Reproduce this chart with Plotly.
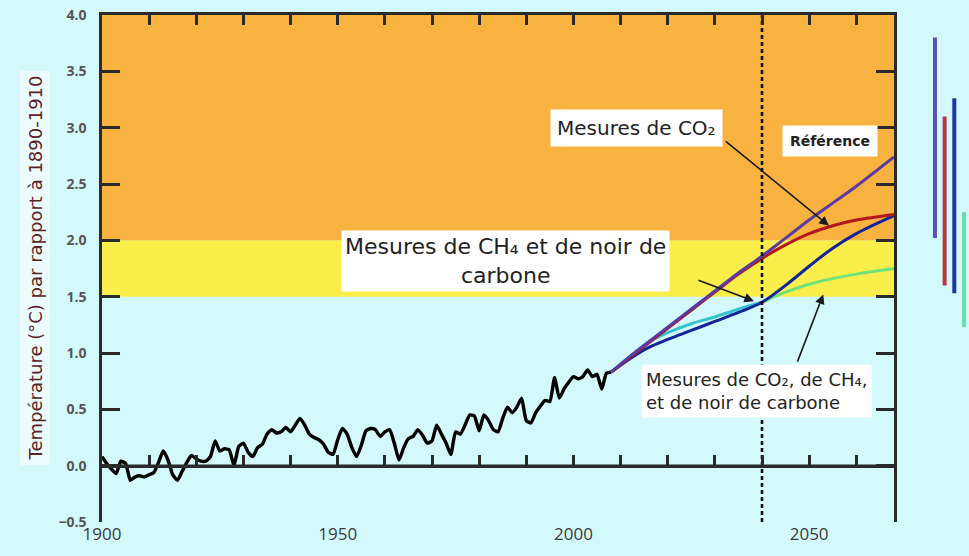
import plotly.graph_objects as go

# ---------------- data ----------------
obs_years = list(range(1900, 2009))
obs_temp = [
    0.08, 0.02, -0.03, -0.07, 0.04, 0.02, -0.13, -0.10, -0.09, -0.10,   # 1900-1909
    -0.08, -0.06, 0.03, 0.13, 0.05, -0.08, -0.13, -0.05, 0.03, 0.09,    # 1910-1919
    0.06, 0.04, 0.04, 0.08, 0.22, 0.13, 0.15, 0.14, 0.00, 0.17,         # 1920-1929
    0.20, 0.12, 0.08, 0.16, 0.19, 0.28, 0.32, 0.29, 0.30, 0.34,         # 1930-1939
    0.30, 0.36, 0.42, 0.36, 0.28, 0.25, 0.23, 0.19, 0.12, 0.10,         # 1940-1949
    0.23, 0.33, 0.28, 0.16, 0.08, 0.18, 0.31, 0.33, 0.32, 0.26,         # 1950-1959
    0.30, 0.32, 0.20, 0.05, 0.16, 0.24, 0.26, 0.32, 0.27, 0.20,         # 1960-1969
    0.22, 0.36, 0.28, 0.20, 0.10, 0.30, 0.28, 0.36, 0.45, 0.44,         # 1970-1979
    0.31, 0.45, 0.40, 0.32, 0.30, 0.42, 0.52, 0.47, 0.52, 0.60,         # 1980-1989
    0.40, 0.38, 0.47, 0.53, 0.58, 0.57, 0.78, 0.60, 0.68, 0.74,         # 1990-1999
    0.79, 0.77, 0.79, 0.85, 0.79, 0.81, 0.68, 0.82, 0.83,               # 2000-2008
]

proj_years = [2008, 2012, 2016, 2020, 2025, 2030, 2035, 2040, 2045, 2050, 2055, 2060, 2068]
proj_reference = [0.83, 0.97, 1.10, 1.23, 1.39, 1.55, 1.71, 1.86, 2.02, 2.18, 2.33, 2.48, 2.74]
proj_co2 = [0.83, 0.96, 1.09, 1.22, 1.38, 1.54, 1.70, 1.84, 1.96, 2.06, 2.13, 2.18, 2.23]
proj_ch4_bc = [0.83, 0.95, 1.05, 1.12, 1.20, 1.28, 1.36, 1.45, 1.60, 1.77, 1.93, 2.06, 2.22]
proj_all = [0.83, 0.97, 1.10, 1.18, 1.26, 1.32, 1.39, 1.45, 1.54, 1.61, 1.66, 1.70, 1.75]

marker_year = 2040

band_low = [1.5, 2.0]
band_high = [2.0, 4.0]

range_labels = ["Référence", "CO₂", "CH₄ + noir de carbone", "CO₂ + CH₄ + noir de carbone"]
range_low = [2.02, 1.60, 1.53, 1.23]
range_high = [3.80, 3.10, 3.26, 2.25]

x_ticks = [1900, 1950, 2000, 2050]
y_ticks = [-0.5, 0.0, 0.5, 1.0, 1.5, 2.0, 2.5, 3.0, 3.5, 4.0]

# ---------------- style ----------------
BG = "#D4F9FC"
AX = "#2a2a2a"
FONT = "Open Sans"
BOXFONT = "DejaVu Sans"
X_RANGE = [1900, 2068]
Y_RANGE = [-0.5, 4.0]
band_colors = ["#F9EE4A", "#F7B23F"]
line_colors = {"ref": "#5b3aa3", "co2": "#b3161c", "ch4": "#14249a",
               "all_a": "#38c4cc", "all_b": "#6ee27a"}
range_colors = ["#5a52b4", "#b33a44", "#1d36a6", "#66e0a6"]

fig = go.Figure()

# observed temperature
fig.add_trace(go.Scatter(x=obs_years, y=obs_temp, mode="lines",
                         line=dict(color="#000000", width=3.4, shape="spline", smoothing=0.5),
                         hoverinfo="skip", showlegend=False))

# projections
k = proj_years.index(marker_year)
fig.add_trace(go.Scatter(x=proj_years[:k + 1], y=proj_all[:k + 1], mode="lines",
                         line=dict(color=line_colors["all_a"], width=3, shape="spline"),
                         showlegend=False, hoverinfo="skip"))
fig.add_trace(go.Scatter(x=proj_years[k:], y=proj_all[k:], mode="lines",
                         line=dict(color=line_colors["all_b"], width=3, shape="spline"),
                         showlegend=False, hoverinfo="skip"))
fig.add_trace(go.Scatter(x=proj_years, y=proj_ch4_bc, mode="lines",
                         line=dict(color=line_colors["ch4"], width=3, shape="spline"),
                         showlegend=False, hoverinfo="skip"))
fig.add_trace(go.Scatter(x=proj_years, y=proj_co2, mode="lines",
                         line=dict(color=line_colors["co2"], width=3, shape="spline"),
                         showlegend=False, hoverinfo="skip"))
fig.add_trace(go.Scatter(x=proj_years, y=proj_reference, mode="lines",
                         line=dict(color=line_colors["ref"], width=3, shape="spline"),
                         showlegend=False, hoverinfo="skip"))

# zero line with ticks (x2)
fig.add_trace(go.Scatter(x=X_RANGE, y=[0, 0], mode="lines", xaxis="x2", yaxis="y",
                         line=dict(color=AX, width=2.5), showlegend=False, hoverinfo="skip"))
# vertical dashed marker (x3 = top axis)
fig.add_trace(go.Scatter(x=[marker_year, marker_year], y=Y_RANGE, mode="lines",
                         xaxis="x3", yaxis="y",
                         line=dict(color="#111111", width=2.6, dash="4px,3px"),
                         showlegend=False, hoverinfo="skip"))

# ranges panel on the right
for lab, lo, hi, col in zip(range_labels, range_low, range_high, range_colors):
    fig.add_trace(go.Scatter(x=[lab, lab], y=[lo, hi], mode="lines", xaxis="x4", yaxis="y2",
                             line=dict(color=col, width=4), showlegend=False, hoverinfo="skip"))

# bands
for lo, hi, col in zip(band_low, band_high, band_colors):
    fig.add_shape(type="rect", xref="x", yref="y", x0=X_RANGE[0], x1=X_RANGE[1],
                  y0=lo, y1=hi, fillcolor=col, line=dict(width=0), layer="below")

L, R, T, B = 102, 0, 15, 34
W, H = 969, 556
pw = W - L - R
main_right = (894 - L) / pw
panel_left = (900 - L) / pw
zero_pos = (0 - Y_RANGE[0]) / (Y_RANGE[1] - Y_RANGE[0])

fig.update_layout(
    width=W, height=H,
    margin=dict(l=L, r=R, t=T, b=B),
    paper_bgcolor=BG, plot_bgcolor=BG,
    font=dict(family=FONT, color="#333333"),
    showlegend=False,
    xaxis=dict(domain=[0, main_right], range=X_RANGE, tickvals=x_ticks,
               ticks="", showline=False, showgrid=False, zeroline=False,
               tickfont=dict(size=17, color="#3a3a3a"), anchor="y"),
    xaxis2=dict(overlaying="x", range=X_RANGE, anchor="free", position=zero_pos,
                side="bottom", showline=True, linecolor=AX, linewidth=2.5,
                ticks="inside", ticklen=10, tickwidth=2.5, tickcolor=AX,
                dtick=10, tick0=1900, showticklabels=False, showgrid=False, zeroline=False),
    xaxis3=dict(overlaying="x", range=X_RANGE, anchor="y", side="top",
                showline=True, linecolor=AX, linewidth=2.5,
                ticks="inside", ticklen=10, tickwidth=2.5, tickcolor=AX,
                dtick=10, tick0=1900, showticklabels=False, showgrid=False, zeroline=False),
    yaxis=dict(domain=[0, 1], range=Y_RANGE, tickvals=y_ticks, tickformat=".1f",
               showline=True, linecolor=AX, linewidth=2.5, mirror="ticks",
               ticks="inside", ticklen=18, tickwidth=2.5, tickcolor=AX,
               showgrid=False, zeroline=False, ticklabelstandoff=10,
               tickfont=dict(size=14, color="#555555", weight="bold"), anchor="x"),
    xaxis4=dict(domain=[panel_left, 1], type="category", range=[-3.62, 3.52],
                visible=False, anchor="y2"),
    yaxis2=dict(domain=[0, 1], range=Y_RANGE, visible=False, anchor="x4"),
)

# y title
fig.add_annotation(text="Température (°C) par rapport à 1890-1910", xref="paper", yref="paper",
                   x=(35 - L) / pw, y=0.5, xanchor="center", yanchor="middle",
                   textangle=-90, showarrow=False, bgcolor="#ECFCFD",
                   font=dict(size=18, color="#5a2323", family=BOXFONT), borderpad=4)

box_font = dict(family=BOXFONT, size=20, color="#222222")
# text boxes
fig.add_annotation(text="Mesures de CO₂", x=2013.3, y=3.0, xref="x", yref="y",
                   showarrow=False, bgcolor="white", font=box_font, borderpad=6)
fig.add_annotation(text="<b>Référence</b>", x=2054.4, y=2.88, xref="x", yref="y",
                   showarrow=False, bgcolor="white",
                   font=dict(family=BOXFONT, size=14, color="#222222"), borderpad=7)
fig.add_annotation(text="Mesures de CH₄ et de noir de<br>carbone", x=1985.5, y=1.82,
                   xref="x", yref="y", showarrow=False, bgcolor="white",
                   font=dict(family=BOXFONT, size=22, color="#222222"),
                   borderpad=3, align="center")
fig.add_annotation(text="Mesures de CO₂, de CH₄,<br>et de noir de carbone", x=2038.9, y=0.66,
                   xref="x", yref="y", showarrow=False, bgcolor="white",
                   font=dict(family=BOXFONT, size=18, color="#222222"), borderpad=4, align="left")

# arrows
arrow_kw = dict(xref="x", yref="y", axref="x", ayref="y", showarrow=True, text="",
                arrowhead=2, arrowsize=1.2, arrowwidth=1.6, arrowcolor="#1a1a1a")
fig.add_annotation(x=2054.2, y=2.13, ax=2032.0, ay=2.89, **arrow_kw)
fig.add_annotation(x=2038.3, y=1.46, ax=2026.2, ay=1.65, **arrow_kw)
fig.add_annotation(x=2053.0, y=1.52, ax=2047.4, ay=0.91, **arrow_kw)

fig.write_html("out.html", config={"displayModeBar": False},
               post_script="document.body.style.margin='0';document.body.style.background='%s';" % BG)
